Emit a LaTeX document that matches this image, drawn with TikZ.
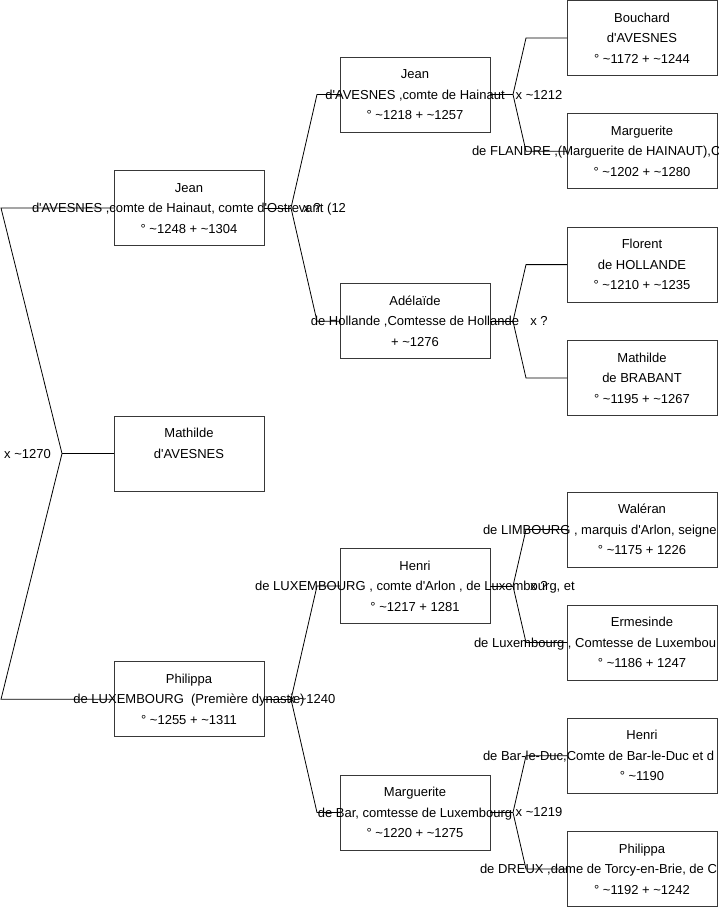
\documentclass[tikz,border=0pt]{standalone}
\usepackage{fontspec}
\setmainfont{Liberation Sans}[Ligatures=TeXOff]
\usetikzlibrary{calc}
\newcommand\tld{\textasciitilde}
\begin{document}
\begin{tikzpicture}[x=1pt,y=-1pt,
  pbox/.style={draw=black!78, line width=0.9pt, minimum width=150pt, minimum height=75pt, inner sep=0pt, outer sep=0pt},
  ptext/.style={align=center, font=\fontsize{13}{20.5}\selectfont, inner sep=0pt, yshift=-0.5pt},
  link/.style={draw=black, line width=0.8pt},
  mlabel/.style={font=\fontsize{13}{20}\selectfont, inner sep=0pt}]
\useasboundingbox (0,0) rectangle (719,908);
\newcommand\pers[6]{%
  \node[pbox] (#1) at (#2,#3) {};
  \node[ptext] (#1-t) at (#2,#3) {\strut#4\\\strut#5\\\strut#6};}
\newcommand\fork[7]{%
  \coordinate (#1-j) at ($(#1.east)+(#4,0)$);
  \coordinate (#1-a) at ($(#2.west)+(-#5,0)$);
  \coordinate (#1-b) at ($(#3.west)+(-#5,0)$);
  \draw[link] (#1.east) -- (#1-j);
  \draw[link] (#1-j) -- (#1-a) -- (#2.west);
  \draw[link] (#1-j) -- (#1-b) -- (#3.west);
  \node[mlabel] (#1-l) at ($(#1.east)+(#6,0)$) {#7};}
% column 1
\pers{JA}{189}{207.9}{Jean}{d'AVESNES ,comte de Hainaut, comte d'Ostrevant (12}{° \tld1248 + \tld1304}
\pers{M}{189}{453.6}{Mathilde}{d'AVESNES}{}
\pers{PA}{189}{699.25}{Philippa}{de LUXEMBOURG \ (Première dynastie)}{° \tld1255 + \tld1311}
% column 2
\pers{JB}{415}{94.5}{Jean}{d'AVESNES ,comte de Hainaut}{° \tld1218 + \tld1257}
\pers{AD}{415}{321.25}{Adélaïde}{de Hollande ,Comtesse de Hollande}{+ \tld1276}
\pers{HB}{415}{586}{Henri}{de LUXEMBOURG , comte d'Arlon , de Luxembourg, et}{° \tld1217 + 1281}
\pers{MB}{415}{812.5}{Marguerite}{de Bar, comtesse de Luxembourg}{° \tld1220 + \tld1275}
% column 3
\pers{BO}{642}{38}{Bouchard}{d'AVESNES}{° \tld1172 + \tld1244}
\pers{MC}{642}{151.3}{Marguerite}{\makebox[340pt][l]{de FLANDRE ,(Marguerite de HAINAUT),C}}{° \tld1202 + \tld1280}
\pers{FL}{642}{264.6}{Florent}{de HOLLANDE}{° \tld1210 + \tld1235}
\pers{MT}{642}{378}{Mathilde}{de BRABANT}{° \tld1195 + \tld1267}
\pers{WA}{642}{529.5}{Waléran}{\makebox[318pt][l]{de LIMBOURG , marquis d'Arlon, seigne}}{° \tld1175 + 1226}
\pers{ER}{642}{642.5}{Ermesinde}{\makebox[336pt][l]{de Luxembourg , Comtesse de Luxembou}}{° \tld1186 + 1247}
\pers{HC}{642}{755.8}{Henri}{\makebox[318pt][l]{de Bar-le-Duc,Comte de Bar-le-Duc et d}}{° \tld1190}
\pers{PC}{642}{869}{Philippa}{\makebox[324pt][l]{de DREUX ,dame de Torcy-en-Brie, de C}}{° \tld1192 + \tld1242}
% root fork
\coordinate (M-j) at ($(M.west)+(-52,0)$);
\coordinate (M-a) at ($(JA.west)+(-113,0)$);
\coordinate (M-b) at ($(PA.west)+(-113,0)$);
\draw[link] (M.west) -- (M-j);
\draw[link] (M-j) -- (M-a) -- (JA.west);
\draw[link] (M-j) -- (M-b) -- (PA.west);
\node[mlabel, anchor=east] (M-l) at ($(M.west)+(-63,0)$) {x \tld1270};
% other forks
\fork{JA}{JB}{AD}{27}{23}{48}{x ?}
\fork{PA}{HB}{MB}{27}{23}{48}{x \tld1240}
\fork{JB}{BO}{MC}{23}{41}{49}{x \tld1212}
\fork{AD}{FL}{MT}{23}{41}{49}{x ?}
\fork{HB}{WA}{ER}{23}{41}{49}{x ?}
\fork{MB}{HC}{PC}{23}{41}{49}{x \tld1219}
\end{tikzpicture}
\end{document}
